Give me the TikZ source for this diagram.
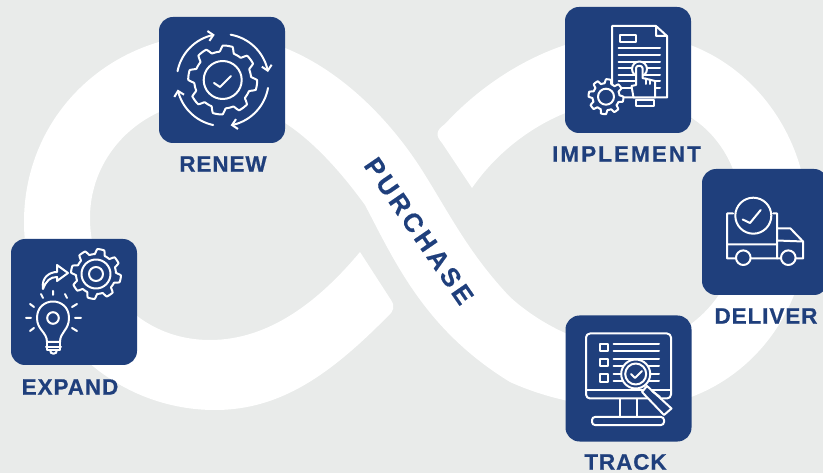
\documentclass[tikz,border=0pt]{standalone}
\usepackage{fontspec}
\setmainfont{Liberation Sans}
\newfontfamily\labfont[LetterSpace=4,FakeBold=0.5]{Liberation Sans Bold}
\newfontfamily\wideabfont[LetterSpace=9,FakeBold=0.5]{Liberation Sans Bold}
\newfontfamily\purchfont[LetterSpace=14,FakeBold=0.5]{Liberation Sans Bold}
\usetikzlibrary{arrows.meta}
\definecolor{bgc}{HTML}{E9EBEA}
\definecolor{navy}{HTML}{1F3F7C}
\tikzset{
  card/.style={fill=navy,rounded corners=14pt,minimum width=126pt,minimum height=126pt,inner sep=0pt,draw=none},
  lab/.style={text=navy,font=\labfont\fontsize{22.5}{22.5}\selectfont,inner sep=0pt},
  ic/.style={draw=white,line width=2pt,line cap=round,line join=round},
  tipped/.style={ic,-{Straight Barb[length=5pt,width=10pt,line width=2pt]}}
}
\newcommand{\gearicon}[6]{% cx cy Rmid amp teeth phase
  \draw[ic,fill=navy] plot[domain=0:360,samples=217,variable=\t]
   ({#1+(#3+#4*max(-1,min(1,2.5*sin(#5*\t+#6))))*cos(\t)},{#2+(#3+#4*max(-1,min(1,2.5*sin(#5*\t+#6))))*sin(\t)}) -- cycle;}
\newcommand{\arcarrow}[5]{% cx cy R from to
  \draw[tipped] plot[domain=#4:#5,samples=30,variable=\t] ({#1+#3*cos(\t)},{#2-#3*sin(\t)});}
\begin{document}
\begin{tikzpicture}[x=1pt,y=-1pt]
\useasboundingbox (0,0) rectangle (823,473);
\fill[bgc] (0,0) rectangle (823,473);
% infinity band
\fill[white] (360,252) .. controls (320,300) and (270,340) .. (210,340)
 .. controls (140,340) and (90,285) .. (90,218)
 .. controls (90,152) and (145,100) .. (215,100)
 .. controls (275,100) and (325,150) .. (365,205)
 .. controls (395,262) and (425,330) .. (510,382)
 .. controls (545,398) and (590,408) .. (630,408)
 .. controls (730,408) and (808,325) .. (808,222)
 .. controls (808,120) and (730,34) .. (630,34)
 .. controls (560,34) and (490,75) .. (445,124)
 .. controls (435,131) and (436,136) .. (442,143)
 -- (472,188)
 .. controls (505,140) and (565,100) .. (630,100)
 .. controls (695,100) and (742,150) .. (742,218)
 .. controls (742,290) and (690,345) .. (625,347)
 .. controls (580,347) and (535,320) .. (510,297)
 .. controls (470,255) and (450,215) .. (425,175)
 .. controls (385,110) and (310,34) .. (215,34)
 .. controls (110,34) and (24,115) .. (24,222)
 .. controls (24,325) and (110,410) .. (215,410)
 .. controls (280,410) and (330,375) .. (388,316)
 .. controls (394,311) and (395,306) .. (391,300)
 -- cycle;
% cards
\node[card] (expand) at (74,302) {};
\node[card] (renew) at (222,80) {};
\node[card] (implement) at (628,70) {};
\node[card] (deliver) at (765,232) {};
\node[card] (track) at (628.5,378.5) {};
% labels
\node[lab] (lexpand) at (70,387) {EXPAND};
\node[lab] (lrenew) at (223,164) {RENEW};
\node[lab,font=\wideabfont\fontsize{22.5}{22.5}\selectfont] (limplement) at (626.5,154) {IMPLEMENT};
\node[lab] (ldeliver) at (766,316) {DELIVER};
\node[lab] (ltrack) at (625.5,462) {TRACK};
\node[text=navy,font=\purchfont\fontsize{26}{26}\selectfont,inner sep=0pt,rotate=-55.5] (lpurchase) at (419,231) {PURCHASE};
% expand icon
\gearicon{96}{274}{22.5}{2.5}{8}{0}
\draw[ic] (96,274) circle (14.5) (96,274) circle (7);
\draw[ic] (53,318) circle (5.8);
\draw[ic] (47,342) .. controls (47,332) and (37,330) .. (37,318) .. controls (37,296) and (69,296) .. (69,318) .. controls (69,330) and (60,332) .. (60,342) -- cycle;
\draw[ic] (46,347) -- (61,347) (47,342) -- (47,350) -- (60,350) -- (60,342);
\draw[ic] (50,350) .. controls (50,355) and (57,355) .. (57,350);
\draw[ic] (53,291) -- (53,295) (41,294) -- (43,298) (65,294) -- (67,298) (30,304) -- (34,307) (72,307) -- (77,304) (26,318) -- (31,318) (75,318) -- (81,318) (30,331) -- (34,328) (72,328) -- (77,331);
\draw[ic] (43,289) .. controls (41,277) and (50,272) .. (57,272) -- (57,265) -- (68,273) -- (57,281) -- (57,277) .. controls (50,277) and (46,281) .. cycle;
% renew icon
\gearicon{222.7}{80}{31.5}{3}{8}{22.5}
\draw[ic] (222.7,80) circle (19);
\draw[ic] (214,83) -- (220,87) -- (231,76);
\arcarrow{222.7}{80}{46}{169}{100}
\arcarrow{222.7}{80}{46}{80}{10}
\arcarrow{222.7}{80}{46}{-10}{-80}
\arcarrow{222.7}{80}{46}{-102}{-168}
% implement icon
\draw[ic] (656,26) -- (612,26) -- (612,97.5) -- (667,97.5) -- (667,36) -- cycle (656,26) -- (656,36) -- (667,36);
\draw[ic] (619.5,35.5) rectangle (636,42.5);
\foreach \yy in {48.5,55.5,62,68.5,75,81.5,88} \draw[ic] (618.5,\yy) -- (660,\yy);
\gearicon{606}{96.7}{15.5}{2}{8}{22.5}
\draw[ic] (606,96.7) circle (8);
\draw[ic,fill=navy] (639.5,69) circle (7.5);
\draw[ic,fill=navy] (636,74) -- (636,68) .. controls (636,65) and (642.5,65) .. (642.5,68) -- (642.5,78) -- (655,81) -- (655,97.5) -- (633.5,97.5) -- (631.5,86) -- (636,85) -- cycle;
\draw[ic] (645.5,78.5) -- (645.5,84) (650,79.5) -- (650,84);
\draw[ic] (636,100.5) rectangle (654,106);
% deliver icon
\draw[ic] (733,213.5) -- (727,213.5) -- (727,258.5) -- (803,258.5) -- (803,241.5) -- (790.5,228.5) -- (777,228.5) -- (777,213.5) -- (773,213.5);
\draw[ic] (777,228.5) -- (777,258.5) (727,244.5) -- (777,244.5) (777,240.5) -- (803,241.5);
\draw[ic,fill=navy] (753.3,215.7) circle (18);
\draw[ic] (742.7,219.5) -- (750,223) -- (760.7,210);
\draw[ic,fill=navy] (743.3,257.7) circle (7.3) (788.3,257.7) circle (7.3);
% track icon
\draw[ic,rounded corners=4pt] (586,333.5) rectangle (671,398.5);
\draw[ic] (586,390) -- (671,390);
\draw[ic] (620,399) -- (620,416) (636.5,399) -- (636.5,416);
\draw[ic,rounded corners=3pt] (592,417) rectangle (664,425);
\draw[ic] (599.5,344) rectangle (607.5,351.5) (599.5,359) rectangle (607.5,366.5) (599.5,374.5) rectangle (607.5,382.5);
\draw[ic] (613.5,344.5) -- (659,344.5) (613.5,351) -- (659,351) (613.5,359.5) -- (659,359.5) (613.5,366) -- (659,366) (613.5,374.5) -- (659,374.5) (613.5,381.5) -- (659,381.5);
\draw[ic,fill=navy] (647,386) -- (671.5,408.5) -- (664,415) -- (642,392) -- cycle;
\draw[ic] (652,391) -- (660,397);
\draw[ic,fill=navy] (635.7,374) circle (14.5);
\draw[ic] (635.7,374) circle (10.5);
\draw[ic] (631,374) -- (635,378) -- (642,371);
\end{tikzpicture}
\end{document}
